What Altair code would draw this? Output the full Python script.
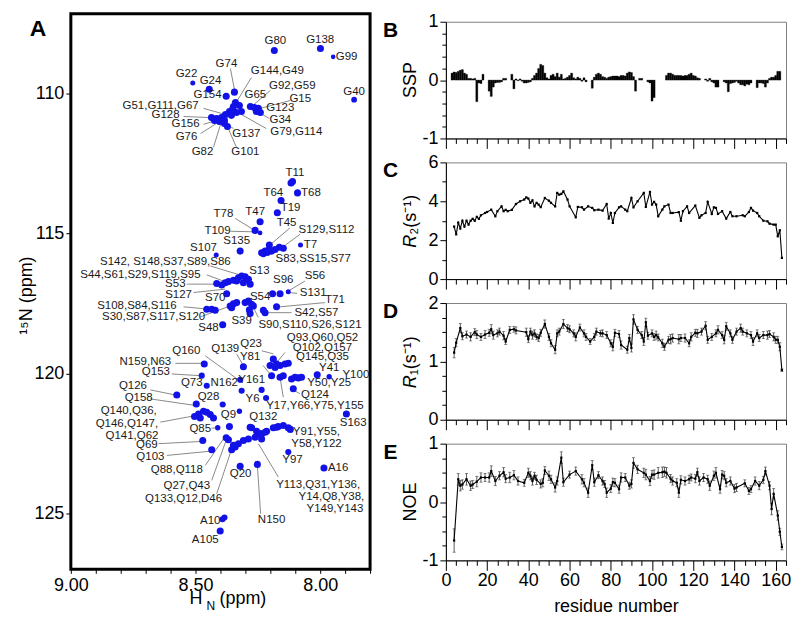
import altair as alt
import pandas as pd

FONT = "Liberation Sans"
BLUE = "#1212e6"
LEADER = "#8a8a8a"

# ---------------- Panel A : HSQC peaks (1H ppm, 15N ppm, relative intensity) ----------------
peaks = [
    (8.184, 108.46, 1), (7.999, 108.39, 1), (7.948, 108.69, 0.3), (7.864, 110.22, 0.6),
    (8.511, 109.62, 0.4), (8.445, 109.85, 1), (8.344, 109.95, 1), (8.377, 110.10, 1),
    (8.340, 110.32, 1), (8.348, 110.46, 1), (8.324, 110.43, 1), (8.364, 110.64, 1),
    (8.316, 110.64, 1), (8.336, 110.68, 1), (8.380, 110.75, 1), (8.396, 110.86, 1),
    (8.416, 110.89, 1), (8.436, 110.86, 1), (8.424, 110.96, 1), (8.404, 111.00, 1),
    (8.384, 110.96, 1), (8.384, 111.07, 1), (8.372, 111.18, 1), (8.356, 110.78, 1),
    (8.352, 110.57, 1), (8.280, 110.46, 1), (8.264, 110.50, 1), (8.248, 110.53, 1),
    (8.256, 110.64, 1), (8.240, 110.68, 1),
    (8.117, 113.20, 1), (8.111, 113.14, 1), (8.091, 113.55, 1), (8.157, 113.82, 1),
    (8.172, 114.26, 1), (8.241, 114.58, 1), (8.261, 114.89, 1), (8.241, 114.98, 0.3),
    (8.204, 115.41, 1), (8.164, 115.49, 1), (8.148, 115.53, 1), (8.079, 115.41, 0.4),
    (8.321, 115.63, 1), (8.417, 115.77, 0.4), (8.235, 115.69, 1), (8.221, 115.63, 1),
    (8.208, 115.60, 1), (8.195, 115.63, 1), (8.181, 115.57, 1), (8.228, 115.72, 1),
    (8.212, 115.68, 1),
    (8.415, 116.79, 1), (8.395, 116.84, 1), (8.381, 116.76, 1), (8.368, 116.72, 1),
    (8.348, 116.67, 1), (8.328, 116.58, 1), (8.315, 116.52, 1), (8.301, 116.55, 1),
    (8.288, 116.64, 1), (8.281, 116.81, 1), (8.308, 116.76, 1), (8.335, 116.70, 1),
    (8.375, 117.15, 1), (8.191, 117.15, 1), (8.161, 117.15, 1), (8.128, 117.08, 0.4),
    (8.455, 117.71, 1), (8.435, 117.71, 1), (8.421, 117.74, 1), (8.361, 117.59, 1),
    (8.348, 117.51, 1), (8.335, 117.47, 1), (8.355, 117.65, 1), (8.301, 117.47, 1),
    (8.288, 117.41, 1), (8.275, 117.53, 1), (8.268, 117.59, 1), (8.281, 117.86, 1),
    (8.284, 117.73, 1), (8.228, 117.74, 1), (8.221, 117.83, 1), (8.175, 117.62, 1),
    (8.391, 118.26, 1),
    (8.465, 119.66, 1), (8.475, 120.08, 0.7), (8.575, 120.77, 1), (8.455, 120.44, 0.7),
    (8.308, 119.76, 1), (8.321, 120.23, 0.7), (8.315, 120.62, 0.7), (8.235, 120.59, 0.7),
    (8.217, 120.88, 0.7), (8.391, 121.11, 0.7), (8.497, 121.09, 1), (8.324, 121.35, 0.5),
    (8.488, 121.45, 1), (8.468, 121.35, 1), (8.455, 121.39, 1), (8.441, 121.47, 1),
    (8.428, 121.59, 1), (8.481, 121.59, 1), (8.504, 121.54, 1), (8.411, 121.94, 0.5),
    (8.364, 121.90, 1), (8.471, 122.40, 1), (8.435, 122.73, 1),
    (8.188, 119.49, 1), (8.201, 119.72, 1), (8.181, 119.79, 1), (8.161, 119.72, 1),
    (8.141, 119.66, 1), (8.128, 119.64, 1), (8.175, 119.66, 1), (8.195, 120.08, 1),
    (8.161, 120.14, 1), (8.148, 120.08, 1), (8.115, 120.20, 1), (8.101, 120.14, 1),
    (8.088, 120.16, 1), (8.075, 120.14, 1), (8.108, 120.55, 1),
    (8.012, 120.05, 1), (7.964, 120.12, 0.5), (7.895, 121.45, 1),
    (8.275, 121.94, 1), (8.255, 122.07, 1), (8.235, 122.16, 1), (8.215, 122.07, 1),
    (8.261, 122.28, 1), (8.235, 122.34, 1), (8.288, 122.34, 1), (8.308, 122.40, 1),
    (8.328, 122.51, 1), (8.341, 122.63, 1), (8.377, 122.30, 1), (8.368, 122.37, 1),
    (8.348, 122.57, 1), (8.355, 122.73, 1), (8.281, 121.92, 1), (8.241, 122.16, 1),
    (8.221, 122.10, 1), (8.188, 121.94, 1), (8.168, 121.90, 1), (8.148, 121.86, 1),
    (8.128, 121.94, 1), (8.175, 121.92, 1), (8.120, 122.00, 1),
    (8.321, 123.32, 1), (8.252, 123.25, 1), (8.128, 122.81, 0.7), (7.985, 123.38, 1),
    (8.384, 125.15, 0.7), (8.392, 125.21, 0.7), (8.401, 125.63, 1),
]

labels = [
    ("G80", 8.180, 108.11), ("G138", 8.000, 108.08), ("G99", 7.894, 108.68),
    ("G40", 7.864, 109.93), ("G22", 8.536, 109.32), ("G24", 8.440, 109.57),
    ("G74", 8.376, 108.93), ("G154", 8.452, 110.04), ("G144,G49", 8.172, 109.18),
    ("G92,G59", 8.112, 109.72), ("G65", 8.260, 110.07), ("G15", 8.080, 110.18),
    ("G123", 8.160, 110.53), ("G34", 8.160, 110.96), ("G79,G114", 8.096, 111.39),
    ("G51,G111,G67", 8.640, 110.43), ("G128", 8.620, 110.78), ("G156", 8.540, 111.10),
    ("G76", 8.536, 111.57), ("G82", 8.472, 112.10), ("G137", 8.296, 111.46),
    ("G101", 8.300, 112.10),
    ("T11", 8.101, 112.84), ("T68", 8.037, 113.55), ("T64", 8.188, 113.55),
    ("T19", 8.119, 114.09), ("T47", 8.261, 114.23), ("T78", 8.388, 114.32),
    ("T109", 8.412, 114.92), ("T45", 8.135, 114.62), ("S129,S112", 7.975, 114.86),
    ("T7", 8.039, 115.41), ("S135", 8.335, 115.27), ("S107", 8.468, 115.53),
    ("S83,SS15,S77", 8.028, 115.92),
    ("S142, S148,S37,S89,S86", 8.621, 116.01), ("S44,S61,S29,S119,S95", 8.721, 116.48),
    ("S13", 8.244, 116.34), ("S53", 8.581, 116.79), ("S127", 8.568, 117.21),
    ("S70", 8.421, 117.31), ("S96", 8.148, 116.67), ("S56", 8.021, 116.52),
    ("S131", 8.028, 117.11), ("S54", 8.241, 117.27), ("T71", 7.941, 117.38),
    ("S108,S84,S116", 8.735, 117.59), ("S42,S57", 8.015, 117.83),
    ("S30,S87,S117,S120", 8.668, 118.00), ("S48", 8.448, 118.36), ("S39", 8.315, 118.12),
    ("S90,S110,S26,S121", 8.041, 118.26),
    ("Q93,Q60,Q52", 7.991, 118.72), ("Q102,Q157", 7.991, 119.09), ("Q145,Q35", 7.991, 119.43),
    ("Q23", 8.277, 118.95), ("Q139", 8.381, 119.13), ("Q160", 8.537, 119.19),
    ("Y81", 8.281, 119.43), ("N159,N63", 8.701, 119.61), ("Q153", 8.659, 119.96),
    ("Y41", 7.964, 119.79), ("Y100", 7.857, 120.05), ("Y161", 8.275, 120.23),
    ("N162", 8.385, 120.36), ("Q73", 8.515, 120.36), ("Y50,Y25", 7.964, 120.36),
    ("Q126", 8.751, 120.44), ("Q158", 8.728, 120.88), ("Q28", 8.448, 120.83),
    ("Y6", 8.271, 120.91), ("Q124", 8.021, 120.76), ("Y17,Y66,Y75,Y155", 8.021, 121.15),
    ("Q140,Q36,", 8.768, 121.35), ("Q146,Q147,", 8.775, 121.80), ("Q141,Q62", 8.755, 122.22),
    ("Q9", 8.368, 121.48), ("Q132", 8.228, 121.57), ("S163", 7.868, 121.77),
    ("Q85", 8.481, 121.98), ("Y91,Y55,", 8.015, 122.10), ("Y58,Y122", 8.015, 122.51),
    ("Q69", 8.695, 122.57), ("Q103", 8.681, 122.99), ("Y97", 8.111, 123.11),
    ("Q88,Q118", 8.575, 123.44), ("A16", 7.928, 123.37), ("Q20", 8.319, 123.61),
    ("Q27,Q43", 8.535, 124.03), ("Y113,Q31,Y136,", 8.008, 124.00),
    ("Y14,Q8,Y38,", 7.955, 124.42), ("Y149,Y143", 7.941, 124.83),
    ("Q133,Q12,D46", 8.548, 124.47), ("N150", 8.195, 125.25), ("A10", 8.441, 125.27),
    ("A105", 8.461, 125.96),
]

leaders = [
    (8.360, 109.11, 8.344, 109.86), (8.276, 109.43, 8.340, 110.36),
    (8.200, 109.89, 8.280, 110.50), (8.120, 110.25, 8.240, 110.53),
    (8.204, 110.89, 8.240, 110.71), (8.216, 111.25, 8.316, 110.75),
    (8.468, 110.53, 8.380, 110.75), (8.548, 110.82, 8.440, 110.86),
    (8.468, 111.10, 8.416, 110.96), (8.480, 111.43, 8.416, 111.07),
    (8.428, 111.92, 8.396, 111.00), (8.348, 111.25, 8.380, 111.07),
    (8.336, 111.92, 8.372, 111.18),
    (8.341, 114.46, 8.268, 114.86), (8.361, 114.92, 8.271, 114.94),
    (8.121, 114.80, 8.199, 115.39), (8.081, 115.03, 8.151, 115.49),
    (8.441, 116.16, 8.308, 116.52), (8.455, 116.48, 8.388, 116.70),
    (8.535, 116.81, 8.415, 116.81), (8.508, 117.11, 8.381, 116.99),
    (8.061, 116.70, 8.121, 117.02), (8.092, 117.14, 8.128, 117.11),
    (7.981, 117.47, 8.161, 117.62), (8.548, 117.62, 8.441, 117.71),
    (8.115, 117.83, 8.215, 117.83), (8.481, 117.98, 8.361, 117.59),
    (8.248, 118.00, 8.268, 117.65),
    (8.235, 119.19, 8.188, 119.30), (8.141, 119.25, 8.175, 119.61),
    (8.335, 119.31, 8.308, 119.72), (8.461, 119.37, 8.328, 120.23),
    (8.229, 119.72, 8.201, 120.02), (8.581, 119.64, 8.468, 119.64),
    (8.595, 120.02, 8.481, 120.08), (8.681, 120.59, 8.581, 120.77),
    (8.681, 120.91, 8.497, 121.15), (8.081, 120.73, 8.115, 120.55),
    (8.148, 120.85, 8.161, 120.15), (8.641, 121.74, 8.501, 121.51),
    (8.436, 121.96, 8.415, 121.94), (8.648, 122.51, 8.475, 122.43),
    (8.615, 122.93, 8.441, 122.78), (8.461, 123.29, 8.388, 122.34),
    (8.435, 123.82, 8.375, 122.34), (8.168, 123.70, 8.248, 122.51),
    (8.415, 124.30, 8.348, 122.51), (8.239, 125.01, 8.252, 123.29),
]

hn_ticks = [7.8, 7.9, 8.0, 8.1, 8.2, 8.3, 8.4, 8.5, 8.6, 8.7, 8.8, 8.9, 9.0]
n_ticks = [110, 115, 120, 125]

# ---------------- Panels B-E : per-residue data ----------------
ssp_res = list(range(3, 163))
ssp_val = [
    0.12, 0.14, 0.13, 0.15, 0.17, 0.18, 0.12, 0.10, 0.03, 0.03,
    0.02, 0.03, -0.37, -0.05, -0.06, 0.10, None, None, -0.19, -0.28,
    -0.12, -0.05, -0.04, -0.04, -0.03, 0.03, 0.03, None, None, 0.10,
    -0.15, 0.02, -0.01, 0.02, -0.02, -0.05, -0.05, -0.04, -0.03, 0.03,
    0.08, 0.12, 0.20, 0.27, 0.25, 0.12, 0.04, 0.02, 0.08, 0.10,
    0.06, 0.12, 0.05, 0.10, 0.02, 0.03, 0.05, 0.08, 0.12, 0.04,
    0.02, 0.05, 0.03, -0.02, 0.04, -0.03, None, None, -0.14, 0.05,
    0.10, 0.12, 0.10, 0.06, 0.05, 0.03, 0.05, 0.06, 0.07, 0.07,
    0.07, 0.06, 0.08, 0.08, 0.07, 0.12, 0.14, 0.13, 0.06, -0.19,
    None, 0.03, 0.03, None, None, -0.03, -0.05, -0.36, -0.30, None,
    None, None, None, None, 0.08, 0.12, 0.12, 0.10, 0.08, 0.08,
    0.08, 0.08, 0.07, 0.08, 0.08, 0.10, 0.12, 0.08, 0.07, 0.04,
    0.03, None, None, 0.02, -0.02, 0.03, -0.03, -0.05, -0.12, -0.12,
    None, None, -0.03, -0.05, -0.20, -0.06, -0.05, -0.04, -0.02, -0.05,
    -0.08, -0.08, -0.10, -0.07, -0.08, -0.05, None, None, -0.13, -0.05,
    -0.05, -0.06, -0.12, -0.05, 0.03, 0.05, 0.05, 0.08, 0.15, 0.15,
]

r2_res = [4, 5, 6, 7, 8, 9, 10, 11, 12, 13, 14, 15, 16, 17,
          19, 20, 22, 24, 25, 27, 28, 29, 30, 32,
          34, 36, 38, 39, 40, 41, 42, 43, 44, 45,
          46, 48, 50, 51, 53, 54, 55, 56, 57, 59,
          60, 63, 64, 66, 67, 69, 71, 72, 74, 76,
          78, 79, 80, 81, 82, 84, 85, 87, 88, 90,
          91, 93, 96, 97, 99, 100, 101, 102, 103, 105,
          106, 108, 109, 110, 113, 114, 115, 117, 118, 121,
          123, 124, 126, 127, 129, 130, 131, 132, 134, 136,
          138, 139, 141, 144, 145, 147, 148, 149, 151, 152,
          154, 156, 157, 159, 160, 161, 162, 163]
r2_val = [2.7, 2.3, 2.9, 2.6, 3.0, 2.7, 3.0, 2.8, 3.0, 3.1, 3.0, 3.2, 3.1, 3.28,
          3.40, 3.45, 3.57, 3.23, 3.49, 3.74, 3.49, 3.56, 3.49, 3.56,
          3.86, 4.00, 4.09, 4.20, 4.14, 3.92, 4.05, 3.74, 3.92, 3.83,
          3.70, 4.17, 4.03, 3.92, 3.74, 4.43, 4.34, 4.38, 4.51, 4.09,
          3.74, 3.18, 3.71, 3.69, 3.57, 3.74, 3.66, 3.54, 3.57, 3.52,
          3.86, 3.11, 3.40, 2.89, 3.40, 3.69, 3.74, 3.57, 3.49, 4.17,
          3.69, 4.00, 4.43, 3.71, 4.48, 3.83, 3.97, 3.83, 3.23, 3.57,
          3.74, 3.83, 3.40, 3.40, 3.44, 3.00, 3.49, 3.74, 3.40, 3.78,
          3.15, 3.28, 3.40, 3.97, 3.35, 3.69, 3.66, 3.35, 3.49, 3.11,
          3.45, 3.23, 3.23, 3.28, 3.23, 3.45, 3.66, 3.52, 3.40, 3.23,
          3.00, 2.97, 2.85, 2.80, 2.80, 2.20, 2.51, 1.09]

r1_res = [4, 5, 7, 8, 10, 12, 14, 15,
          17, 19, 21, 22, 23, 25, 26, 28, 29, 31,
          33, 34, 39, 40, 41, 42, 43, 44, 45, 46,
          48, 50, 51, 53, 54, 55, 57, 59, 60, 62,
          63, 65, 67, 68, 70, 72, 73, 75, 76, 78,
          80, 81, 82, 84, 85, 88, 89, 90, 91, 93,
          95, 96, 97, 98, 100, 101, 102, 103, 105, 106,
          108, 109, 110, 113, 114, 116, 118, 119, 121, 122,
          124, 126, 127, 129, 131, 132, 134, 135, 136, 138,
          139, 141, 143, 144, 146, 148, 149, 151, 152, 154,
          156, 157, 159, 160, 161, 162, 163]
r1_val = [1.15, 1.32, 1.57, 1.43, 1.46, 1.42, 1.50, 1.46,
          1.42, 1.46, 1.49, 1.55, 1.45, 1.48, 1.51, 1.44, 1.34, 1.54,
          1.55, 1.53, 1.50, 1.38, 1.51, 1.45, 1.48, 1.42, 1.40, 1.49,
          1.64, 1.42, 1.31, 1.20, 1.48, 1.51, 1.64, 1.57, 1.55, 1.48,
          1.42, 1.58, 1.48, 1.42, 1.34, 1.42, 1.51, 1.48, 1.48, 1.45,
          1.31, 1.25, 1.49, 1.47, 1.28, 1.20, 1.40, 1.23, 1.72, 1.54,
          1.45, 1.34, 1.67, 1.44, 1.48, 1.42, 1.45, 1.41, 1.31, 1.25,
          1.37, 1.38, 1.40, 1.38, 1.40, 1.40, 1.31, 1.42, 1.49, 1.48,
          1.51, 1.61, 1.37, 1.42, 1.48, 1.54, 1.45, 1.37, 1.60, 1.48,
          1.37, 1.51, 1.57, 1.51, 1.48, 1.45, 1.34, 1.48, 1.40, 1.45,
          1.45, 1.47, 1.42, 1.37, 1.37, 1.25, 0.85]
r1_err = [0.09, 0.07, 0.08, 0.06, 0.06, 0.07, 0.06, 0.07,
          0.06, 0.07, 0.06, 0.08, 0.07, 0.06, 0.06, 0.07, 0.05, 0.06,
          0.05, 0.06, 0.07, 0.06, 0.06, 0.07, 0.06, 0.05, 0.06, 0.06,
          0.07, 0.06, 0.06, 0.07, 0.06, 0.06, 0.08, 0.06, 0.06, 0.06,
          0.07, 0.06, 0.06, 0.06, 0.05, 0.06, 0.06, 0.05, 0.06, 0.06,
          0.06, 0.07, 0.06, 0.06, 0.07, 0.06, 0.06, 0.07, 0.08, 0.06,
          0.06, 0.07, 0.07, 0.06, 0.06, 0.06, 0.07, 0.06, 0.07, 0.06,
          0.06, 0.08, 0.07, 0.08, 0.06, 0.07, 0.06, 0.07, 0.06, 0.07,
          0.06, 0.07, 0.06, 0.06, 0.06, 0.07, 0.06, 0.07, 0.07, 0.06,
          0.06, 0.06, 0.07, 0.06, 0.06, 0.06, 0.07, 0.06, 0.06, 0.06,
          0.07, 0.06, 0.07, 0.06, 0.06, 0.07, 0.02]

noe_res = [4, 6, 7, 8, 10, 12, 13, 15,
           17, 19, 21, 22, 24, 26, 28, 29, 31, 33,
           35, 38, 40, 41, 42, 43, 44, 46, 47, 48,
           50, 51, 53, 54, 56, 57, 60, 63, 66, 67,
           69, 71, 72, 74, 76, 77, 78, 80, 81, 82,
           84, 85, 87, 89, 90, 91, 93, 96, 97, 99,
           100, 101, 103, 105, 106, 107, 109, 110, 112, 113,
           114, 116, 118, 119, 121, 122, 123, 125, 127, 128,
           130, 131, 133, 134, 135, 136, 138, 140, 141, 145,
           147, 148, 150, 152, 154, 155, 157, 158, 159, 161,
           162, 163]
noe_val = [-0.66, 0.39, 0.28, 0.30, 0.39, 0.28, 0.30, 0.35,
           0.42, 0.42, 0.42, 0.53, 0.36, 0.45, 0.51, 0.40, 0.42, 0.46,
           0.36, 0.33, 0.50, 0.45, 0.36, 0.45, 0.38, 0.31, 0.33, 0.54,
           0.45, 0.39, 0.25, 0.36, 0.76, 0.34, 0.47, 0.53, 0.39, 0.33,
           0.16, 0.63, 0.34, 0.46, 0.36, 0.31, 0.16, 0.23, 0.34, 0.33,
           0.22, 0.42, 0.42, 0.28, 0.31, 0.67, 0.56, 0.50, 0.47, 0.36,
           0.47, 0.47, 0.50, 0.51, 0.52, 0.50, 0.40, 0.36, 0.33, 0.16,
           0.38, 0.36, 0.39, 0.42, 0.40, 0.51, 0.36, 0.42, 0.39, 0.28,
           0.45, 0.50, 0.22, 0.47, 0.45, 0.33, 0.36, 0.23, 0.25, 0.32,
           0.19, 0.22, 0.36, 0.28, 0.38, 0.53, 0.28, -0.12, 0.14, -0.23,
           -0.51, -0.77]
noe_err = [0.20, 0.10, 0.09, 0.08, 0.10, 0.08, 0.07, 0.09,
           0.08, 0.07, 0.08, 0.09, 0.08, 0.07, 0.08, 0.07, 0.09, 0.08,
           0.07, 0.06, 0.08, 0.07, 0.07, 0.06, 0.08, 0.07, 0.07, 0.07,
           0.08, 0.07, 0.08, 0.07, 0.10, 0.07, 0.06, 0.07, 0.08, 0.07,
           0.08, 0.08, 0.07, 0.06, 0.07, 0.06, 0.08, 0.07, 0.07, 0.07,
           0.07, 0.08, 0.07, 0.06, 0.07, 0.09, 0.07, 0.08, 0.09, 0.08,
           0.07, 0.08, 0.09, 0.09, 0.08, 0.09, 0.07, 0.07, 0.07, 0.08,
           0.07, 0.07, 0.07, 0.06, 0.07, 0.07, 0.07, 0.07, 0.07, 0.08,
           0.08, 0.09, 0.07, 0.07, 0.07, 0.07, 0.07, 0.07, 0.07, 0.06,
           0.06, 0.06, 0.07, 0.07, 0.06, 0.07, 0.07, 0.10, 0.09, 0.08,
           0.06, 0.05]

res_ticks = list(range(0, 166, 5))
ssp_ticks = [-1, -0.8, -0.6, -0.4, -0.2, 0, 0.2, 0.4, 0.6, 0.8, 1]
r2_ticks = [0, 1, 2, 3, 4, 5, 6]
r1_ticks = [0, 0.25, 0.5, 0.75, 1, 1.25, 1.5, 1.75, 2]
noe_ticks = [-1, -0.75, -0.5, -0.25, 0, 0.25, 0.5, 0.75, 1]

# ====================== Panel A ======================
peak_df = pd.DataFrame(peaks, columns=["h", "n", "i"])
lab_df = pd.DataFrame(labels, columns=["t", "h", "n"])
lead_df = pd.DataFrame(leaders, columns=["h1", "n1", "h2", "n2"])

xA = alt.Scale(domain=[7.8, 9.0], reverse=True, nice=False, zero=False)
yA = alt.Scale(domain=[107.15, 127.0], reverse=True, nice=False, zero=False)
axA_x = alt.Axis(values=hn_ticks, grid=False, domain=False, tickColor="black", tickSize=4,
                 labelExpr="abs(datum.value*2 - round(datum.value*2)) < 0.001 ? format(datum.value, '.2f') : ''",
                 labelFontSize=18, labelColor="black", labelFlush=False, labelOverlap=False,
                 labelPadding=3, title=None)
axA_y = alt.Axis(values=n_ticks, grid=False, domain=False, tickColor="black", tickSize=5,
                 labelFontSize=18, labelColor="black", labelPadding=2,
                 title="\u00b9\u2075N (ppm)", titleFontSize=18, titleFontWeight="normal",
                 titleColor="black", titleX=-35, titleY=282)

lead_layer = alt.Chart(lead_df).mark_rule(color=LEADER, strokeWidth=1).encode(
    x=alt.X("h1:Q", scale=xA, axis=axA_x), y=alt.Y("n1:Q", scale=yA, axis=axA_y),
    x2="h2:Q", y2="n2:Q")
dot_layer = alt.Chart(peak_df).mark_circle(color=BLUE, opacity=1).encode(
    x=alt.X("h:Q", scale=xA, axis=axA_x), y=alt.Y("n:Q", scale=yA, axis=axA_y),
    size=alt.Size("i:Q", scale=alt.Scale(domain=[0, 1], range=[9, 50]), legend=None))
lab_layer = alt.Chart(lab_df).mark_text(fontSize=11.5, color="#1a1a1a", align="center",
                                        baseline="middle").encode(
    x=alt.X("h:Q", scale=xA, axis=axA_x), y=alt.Y("n:Q", scale=yA, axis=axA_y), text="t:N")

def note(text, x, y, size=18, weight="normal", style="normal", angle=0, align="center",
         baseline="middle"):
    return alt.Chart(pd.DataFrame({"t": [text]})).mark_text(
        fontSize=size, fontWeight=weight, fontStyle=style, angle=angle, align=align,
        baseline=baseline, color="black").encode(text="t:N", x=alt.value(x), y=alt.value(y))

panelA = alt.layer(
    lead_layer, dot_layer, lab_layer,
    note("A", -33, 15, size=23, weight="bold"),
    note("H", 119, 592, align="left", baseline="alphabetic"),
    note("N", 136, 598, size=12, align="left", baseline="alphabetic"),
    note("(ppm)", 149, 592, align="left", baseline="alphabetic"),
).properties(width=300, height=557, view=alt.ViewBackground(stroke="black", strokeWidth=3))

# ====================== Panels B-E ======================
RES_SCALE = alt.Scale(domain=[0, 165], nice=False, zero=False)

def res_axis(show):
    kw = dict(values=res_ticks, grid=False, domainColor="black", tickColor="black",
              tickSize={"condition": {"test": "datum.value % 20 === 0", "value": 10}, "value": 5},
              labelFlush=False, labelOverlap=False, labelFontSize=18, labelColor="black",
              labelPadding=1)
    if show:
        kw.update(labelExpr="datum.value % 20 === 0 ? datum.label : ''",
                  title="residue number", titleFontSize=18, titleFontWeight="normal",
                  titleColor="black", titlePadding=8)
    else:
        kw.update(labels=False, title=None)
    return alt.Axis(**kw)

def val_axis(values, major):
    return alt.Axis(values=values, grid=False, domainColor="black", tickColor="black",
                    tickSize={"condition": {"test": major, "value": 6}, "value": 4},
                    labelExpr=major + " ? '' + round(datum.value) : ''",
                    labelOverlap=False, labelFontSize=18, labelColor="black", labelPadding=2,
                    title=None)

INT = "abs(datum.value - round(datum.value)) < 0.001"

def frame(layers, letter):
    return alt.layer(*layers, note(letter, -55.5, 9, size=21, weight="bold")).properties(
        width=341, height=117, view=alt.ViewBackground(stroke="#808080", strokeWidth=1))

# B : SSP bars
ssp_df = pd.DataFrame({"r": ssp_res, "v": ssp_val}).dropna()
ssp_df["a"] = ssp_df["r"] - 0.5
ssp_df["b"] = ssp_df["r"] + 0.5
ssp_df["z"] = 0.0
ySSP = alt.Scale(domain=[-1, 1], nice=False, zero=False)
bars = alt.Chart(ssp_df).mark_bar(color="black", stroke="black", strokeWidth=0.3).encode(
    x=alt.X("a:Q", scale=RES_SCALE, axis=res_axis(False)), x2="b:Q",
    y=alt.Y("v:Q", scale=ySSP, axis=val_axis(ssp_ticks, INT)), y2="z:Q")
panelB = frame([bars, note("SSP", -30, 58.5, angle=270, baseline="alphabetic")], "B")

# C : R2
r2_df = pd.DataFrame({"r": r2_res, "v": r2_val})
yR2 = alt.Scale(domain=[0, 6], nice=False, zero=False)
r2_line = alt.Chart(r2_df).mark_line(color="black", strokeWidth=1.1).encode(
    x=alt.X("r:Q", scale=RES_SCALE, axis=res_axis(False)),
    y=alt.Y("v:Q", scale=yR2, axis=val_axis(r2_ticks, "datum.value % 2 === 0")))
r2_pts = alt.Chart(r2_df).mark_point(shape="square", filled=True, size=5, color="black",
                                     opacity=1).encode(
    x=alt.X("r:Q", scale=RES_SCALE, axis=res_axis(False)),
    y=alt.Y("v:Q", scale=yR2, axis=val_axis(r2_ticks, "datum.value % 2 === 0")))
panelC = frame([r2_line, r2_pts,
                note("R", -30, 85.5, style="italic", angle=270, align="left", baseline="alphabetic"),
                note("\u2082(s\u207b\u00b9)", -30, 72.5, angle=270, align="left", baseline="alphabetic")],
               "C")

yR1 = alt.Scale(domain=[0, 2], nice=False, zero=False)
yNOE = alt.Scale(domain=[-1, 1], nice=False, zero=False)

def err_panel(res, val, err, ticks, yscale, show_x):
    df = pd.DataFrame({"r": res, "v": val, "e": err})
    df["lo"] = df["v"] - df["e"]
    df["hi"] = df["v"] + df["e"]
    X = alt.X("r:Q", scale=RES_SCALE, axis=res_axis(show_x))
    def Y(f):
        return alt.Y(f, scale=yscale, axis=val_axis(ticks, INT))
    eb = alt.Chart(df).mark_rule(color="#333333", strokeWidth=0.8).encode(x=X, y=Y("lo:Q"), y2="hi:Q")
    cap_lo = alt.Chart(df).mark_tick(orient="horizontal", size=3, thickness=0.8,
                                     color="#333333").encode(x=X, y=Y("lo:Q"))
    cap_hi = alt.Chart(df).mark_tick(orient="horizontal", size=3, thickness=0.8,
                                     color="#333333").encode(x=X, y=Y("hi:Q"))
    ln = alt.Chart(df).mark_line(color="black", strokeWidth=1.1).encode(x=X, y=Y("v:Q"))
    pt = alt.Chart(df).mark_point(shape="square", filled=True, size=5, color="black",
                                  opacity=1).encode(x=X, y=Y("v:Q"))
    return [eb, cap_lo, cap_hi, ln, pt]

panelD = frame(err_panel(r1_res, r1_val, r1_err, r1_ticks, yR1, False) +
               [note("R", -30, 85.5, style="italic", angle=270, align="left", baseline="alphabetic"),
                note("\u2081(s\u207b\u00b9)", -30, 72.5, angle=270, align="left", baseline="alphabetic")],
               "D")
panelE = frame(err_panel(noe_res, noe_val, noe_err, noe_ticks, yNOE, True) +
               [note("NOE", -30, 58.5, angle=270, baseline="alphabetic")], "E")

spacer = alt.Chart(pd.DataFrame({"v": [0]})).mark_point(opacity=0).encode(
    x=alt.X("v:Q", axis=None), y=alt.Y("v:Q", axis=None)).properties(
    width=341, height=8, view=alt.ViewBackground(stroke="transparent"))

right = alt.vconcat(spacer,
                    alt.vconcat(panelB, panelC, panelD, panelE, spacing=24, bounds="flush"),
                    spacing=0, bounds="flush")

chart = alt.hconcat(panelA, right, spacing=76, bounds="flush").properties(
    padding={"left": 8, "top": 3, "right": 0, "bottom": 0},
    background="white",
).configure(font=FONT).configure_axis(labelFont=FONT, titleFont=FONT).configure_text(font=FONT)

chart.save("out.html", embed_options={"renderer": "svg", "actions": False})
